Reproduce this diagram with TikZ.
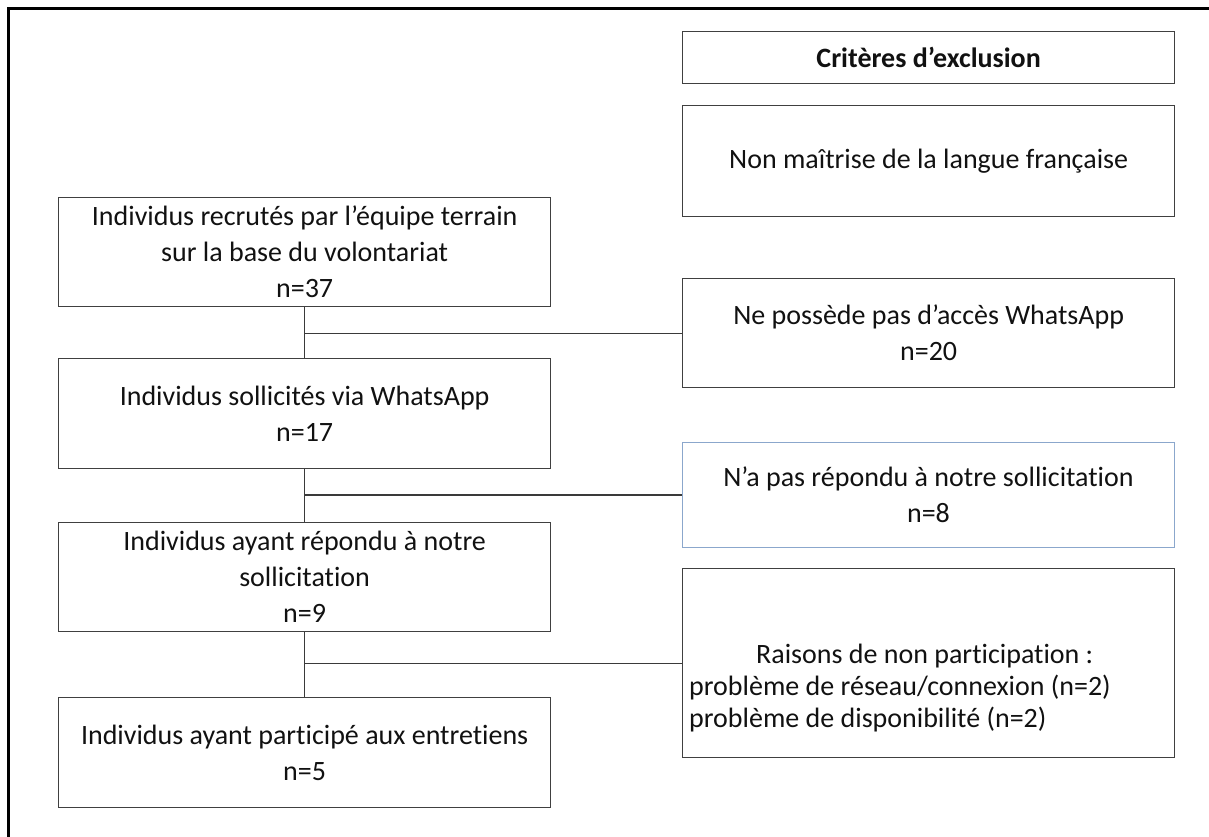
\documentclass[tikz,border=0pt]{standalone}
\usepackage{fontspec}
\setmainfont[Ligatures=NoCommon]{Carlito}
\definecolor{boxgray}{HTML}{404040}
\definecolor{linegray}{HTML}{3A3A3A}
\definecolor{boxblue}{HTML}{8BA7CC}
\definecolor{txt}{HTML}{111111}
\begin{document}
\begin{tikzpicture}[x=1pt,y=-1pt,
  box/.style={draw=boxgray, line width=1.3pt, inner sep=0pt, align=center, text=txt,
    anchor=north west, minimum width=492pt, font=\fontsize{28}{36}\selectfont},
  conn/.style={draw=linegray, line width=1.2pt},
  frameline/.style={line width=3pt, black}]
\useasboundingbox (0,0) rectangle (1209,837);
% outer frame (top and left)
\draw[frameline] (1209,8.7) -- (8.7,8.7) -- (8.7,837);
% left column
\node[box, minimum height=109pt] (b1) at (58,197)
  {Individus recrutés par l’équipe terrain\\sur la base du volontariat\\n=37};
\node[box, minimum height=110pt] (b2) at (58,358)
  {Individus sollicités via WhatsApp\\n=17};
\node[box, minimum height=109pt] (b3) at (58,522)
  {Individus ayant répondu à notre\\sollicitation\\n=9};
\node[box, minimum height=110pt] (b4) at (58,697)
  {Individus ayant participé aux entretiens\\n=5};
% right column
\node[box, minimum height=52pt] (h) at (682,31)
  {\bfseries Critères d’exclusion};
\node[box, minimum height=111pt] (e0) at (682,105)
  {Non maîtrise de la langue française};
\node[box, minimum height=109pt] (e1) at (682,278)
  {Ne possède pas d’accès WhatsApp\\n=20};
\node[box, draw=boxblue, line width=1pt, minimum height=105pt] (e2) at (682,442)
  {N’a pas répondu à notre sollicitation\\n=8};
\node[box, minimum height=189pt] (e3) at (682,568) {};
\node[align=left, anchor=north west, inner sep=0pt, text=txt, font=\fontsize{28}{32}\selectfont] (e3t) at (689,644)
  {\hspace*{67pt}Raisons de non participation :\\problème de réseau/connexion (n=2)\\problème de disponibilité (n=2)};
% connectors
\draw[conn] (b1.south) -- (b2.north);
\draw[conn] (b2.south) -- (b3.north);
\draw[conn] (b3.south) -- (b4.north);
\draw[conn] (e1.west -| b1.south) -- (e1.west);
\draw[conn] (e2.west -| b2.south) -- (e2.west);
\draw[conn] (e3.west -| b3.south) -- (e3.west);
\end{tikzpicture}
\end{document}
